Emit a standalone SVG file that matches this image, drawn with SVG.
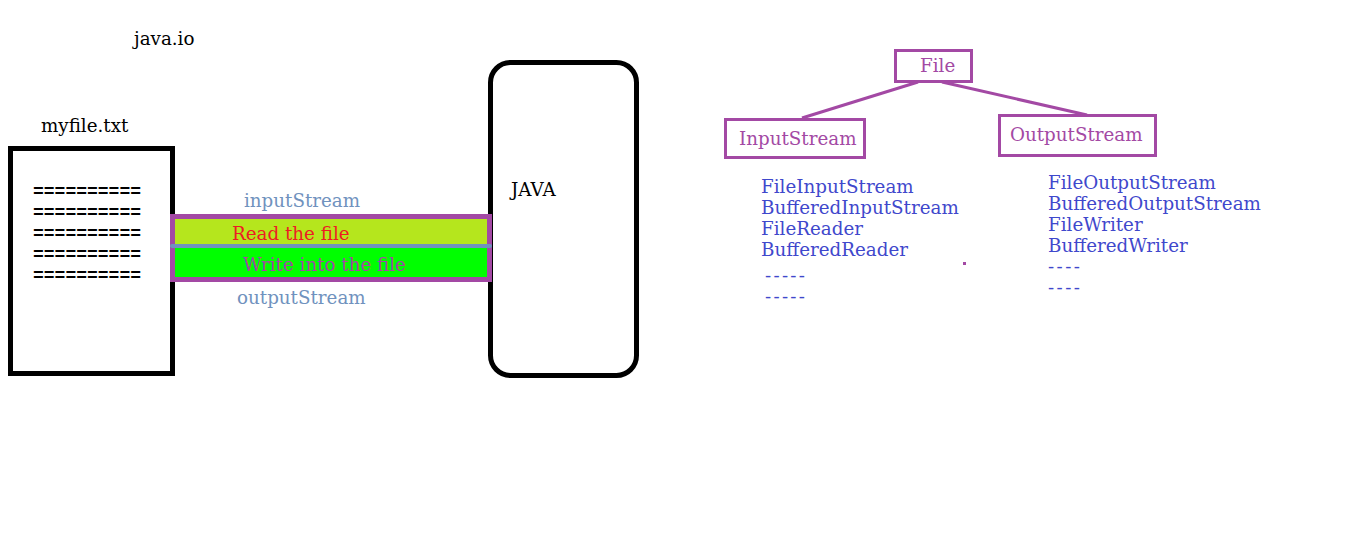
<svg xmlns="http://www.w3.org/2000/svg" width="1350" height="555" viewBox="0 0 1350 555">
<style>
.t{font-family:"DejaVu Serif","Liberation Serif",serif;font-size:18.3px}
.k{fill:#000}
.lb{fill:#7092be}
.bl{fill:#3f48cc}
.pu{fill:#a349a4}
.eq{font-family:"Liberation Mono",monospace;font-size:18px;font-weight:bold;fill:#000}
.box{fill:#fff;stroke:#a349a4;stroke-width:3}
</style>
<rect width="1350" height="555" fill="#fff"/>
<text class="t k" x="134" y="45">java.io</text>
<g id="myfile">
<text class="t k" x="41" y="132">myfile.txt</text>
<rect x="10.5" y="148.5" width="162" height="225" fill="#fff" stroke="#000" stroke-width="5"/>
<text class="eq" x="33" y="197">==========</text>
<text class="eq" x="33" y="218">==========</text>
<text class="eq" x="33" y="239">==========</text>
<text class="eq" x="33" y="260">==========</text>
<text class="eq" x="33" y="281">==========</text>
</g>
<g id="java">
<rect x="490.5" y="62.5" width="146" height="313" rx="20" fill="#fff" stroke="#000" stroke-width="5"/>
<text class="t k" x="511" y="196">JAVA</text>
</g>
<g id="stream">
<text class="t lb" x="244" y="207">inputStream</text>
<rect x="172.5" y="216.5" width="317" height="63" fill="#b5e61d" stroke="#a349a4" stroke-width="5"/>
<rect x="175" y="248" width="312" height="29" fill="#00ff00"/>
<line x1="172" y1="246" x2="490" y2="246" stroke="#7092be" stroke-width="4" stroke-linecap="round"/>
<text class="t" x="232" y="240" fill="#ed1c24">Read the file</text>
<text class="t pu" x="243" y="271">Write into the file</text>
<text class="t lb" x="237" y="304">outputStream</text>
</g>
<g id="connectors" stroke="#a349a4" stroke-width="3">
<line x1="918" y1="82" x2="802" y2="118"/>
<line x1="942" y1="82" x2="1087" y2="115"/>
</g>
<g id="file">
<rect class="box" x="895.5" y="50.5" width="76" height="31"/>
<text class="t pu" x="920" y="72">File</text>
</g>
<g id="inputstream">
<rect class="box" x="725.5" y="119.5" width="139" height="38"/>
<text class="t pu" x="739" y="145">InputStream</text>
</g>
<g id="outputstream">
<rect class="box" x="999.5" y="115.5" width="156" height="40"/>
<text class="t pu" x="1010" y="141">OutputStream</text>
</g>
<g id="inputlist">
<text class="t bl" x="761" y="193">FileInputStream</text>
<text class="t bl" x="761" y="214">BufferedInputStream</text>
<text class="t bl" x="761" y="235">FileReader</text>
<text class="t bl" x="761" y="256">BufferedReader</text>
<text class="t bl" x="765" y="282" textLength="40" lengthAdjust="spacing">-----</text>
<text class="t bl" x="765" y="303" textLength="40" lengthAdjust="spacing">-----</text>
</g>
<rect x="963" y="262" width="3" height="3" fill="#a349a4"/>
<g id="outputlist">
<text class="t bl" x="1048" y="189">FileOutputStream</text>
<text class="t bl" x="1048" y="210">BufferedOutputStream</text>
<text class="t bl" x="1048" y="231">FileWriter</text>
<text class="t bl" x="1048" y="252">BufferedWriter</text>
<text class="t bl" x="1048" y="273" textLength="32" lengthAdjust="spacing">----</text>
<text class="t bl" x="1048" y="294" textLength="32" lengthAdjust="spacing">----</text>
</g>
</svg>
